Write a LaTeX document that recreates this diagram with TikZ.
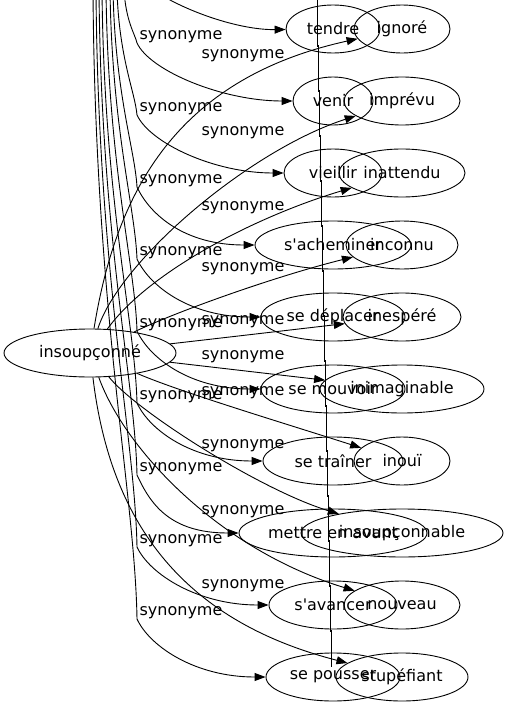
\documentclass[tikz,border=0pt]{standalone}
\usepackage{fontspec}
\newfontfamily\gvfont{DejaVu Sans}[Ligatures=TeXOff]
\usetikzlibrary{shapes.geometric,arrows.meta}

\tikzset{
  word/.style={ellipse, draw, line width=0.9pt, minimum height=48pt, inner sep=0pt,
    font=\gvfont\fontsize{16}{19}\selectfont},
  rel/.style={inner sep=0pt, font=\gvfont\fontsize{16}{19}\selectfont},
  syn/.style={line width=0.9pt, -{Triangle[length=11pt,width=8pt]}},
}

\begin{document}
\begin{tikzpicture}[x=1pt,y=-1pt]
    \useasboundingbox (0,0) rectangle (508,707);
    \clip (0,0) rectangle (508,707);

    % Source word
    \node[word, minimum width=172pt] (insoup) at (90,353) {insoupçonné};

    % Verbs
    \node[word, minimum width=94pt]  (tendre)   at (333,29)  {tendre};
    \node[word, minimum width=80pt]  (venir)    at (333,101) {venir};
    \node[word, minimum width=98pt]  (vieillir) at (333,173) {vieillir};
    \node[word, minimum width=156pt] (achem)    at (333,245) {s'acheminer};
    \node[word, minimum width=144pt] (deplacer) at (333,317) {se déplacer};
    \node[word, minimum width=144pt] (mouvoir)  at (333,389) {se mouvoir};
    \node[word, minimum width=140pt] (trainer)  at (333,461) {se traîner};
    \node[word, minimum width=188pt] (mettre)   at (333,533) {mettre en avant};
    \node[word, minimum width=128pt] (avancer)  at (333,605) {s'avancer};
    \node[word, minimum width=134pt] (pousser)  at (333,677) {se pousser};

    % Adjectives
    \node[word, minimum width=96pt]  (ignore)     at (402,29)  {ignoré};
    \node[word, minimum width=116pt] (imprevu)    at (402,101) {imprévu};
    \node[word, minimum width=126pt] (inattendu)  at (402,173) {inattendu};
    \node[word, minimum width=112pt] (inconnu)    at (402,245) {inconnu};
    \node[word, minimum width=118pt] (inespere)   at (402,317) {inespéré};
    \node[word, minimum width=164pt] (inimag)     at (402,389) {inimaginable};
    \node[word, minimum width=96pt]  (inoui)      at (402,461) {inouï};
    \node[word, minimum width=202pt] (insoupable) at (402,533) {insoupçonnable};
    \node[word, minimum width=116pt] (nouveau)    at (402,605) {nouveau};
    \node[word, minimum width=132pt] (stupefiant) at (402,677) {stupéfiant};

    % Edges coming from above
    \coordinate (srcA) at (150,-12);
    \coordinate (srcB) at (124,-10);
    \coordinate (srcC) at (117,-10);
    \coordinate (srcD) at (113,-10);
    \coordinate (srcE) at (110,-10);
    \coordinate (srcF) at (106,-10);
    \coordinate (srcG) at (102,-10);
    \coordinate (srcH) at (99,-10);
    \coordinate (srcI) at (96,-10);
    \coordinate (srcJ) at (93,-10);

    \draw[syn] (srcA) .. controls (185,12) and (240,30) .. (tendre);
    \draw[syn] (srcB) .. controls (126,22) and (135,34) .. (137,43)
        .. controls (150,71) and (223,101) .. (venir);
    \draw[syn] (srcC) .. controls (119,58) and (135,92) .. (137,115)
        .. controls (150,143) and (214,173) .. (vieillir);
    \draw[syn] (srcD) .. controls (115,94) and (135,150) .. (137,187)
        .. controls (150,215) and (185,245) .. (achem);
    \draw[syn] (srcE) .. controls (112,130) and (135,207) .. (137,259)
        .. controls (150,287) and (191,317) .. (deplacer);
    \draw[syn] (srcF) .. controls (108,166) and (135,265) .. (137,331)
        .. controls (150,359) and (191,389) .. (mouvoir);
    \draw[syn] (srcG) .. controls (104,202) and (135,322) .. (137,403)
        .. controls (150,431) and (193,461) .. (trainer);
    \draw[syn] (srcH) .. controls (101,238) and (135,380) .. (137,475)
        .. controls (150,503) and (169,533) .. (mettre);
    \draw[syn] (srcI) .. controls (98,274) and (135,438) .. (137,547)
        .. controls (150,575) and (199,605) .. (avancer);
    \draw[syn] (srcJ) .. controls (95,310) and (135,495) .. (137,619)
        .. controls (150,647) and (196,677) .. (pousser);

    % Edges from insoupçonné
    \draw[syn] (insoup) .. controls (115,200) and (170,80) .. (ignore);
    \draw[syn] (insoup) .. controls (120,260) and (250,150) .. (imprevu);
    \draw[syn] (insoup) .. controls (150,270) and (260,215) .. (inattendu);
    \draw[syn] (insoup) .. controls (180,310) and (280,275) .. (inconnu);
    \draw[syn] (insoup) .. controls (230,337) and (290,330) .. (inespere);
    \draw[syn] (insoup) .. controls (220,368) and (280,375) .. (inimag);
    \draw[syn] (insoup) .. controls (180,392) and (290,425) .. (inoui);
    \draw[syn] (insoup) .. controls (135,410) and (260,490) .. (insoupable);
    \draw[syn] (insoup) .. controls (125,450) and (220,550) .. (nouveau);
    \draw[syn] (insoup) .. controls (110,520) and (180,620) .. (stupefiant);

    % Labels, left
    \node[rel] (lb1) at (181,37)  {synonyme};
    \node[rel] (lb2) at (181,109) {synonyme};
    \node[rel] (lb3) at (181,181) {synonyme};
    \node[rel] (lb4) at (181,253) {synonyme};
    \node[rel] (lb5) at (181,325) {synonyme};
    \node[rel] (lb6) at (181,397) {synonyme};
    \node[rel] (lb7) at (181,469) {synonyme};
    \node[rel] (lb8) at (181,541) {synonyme};
    \node[rel] (lb9) at (181,613) {synonyme};

    % Labels, right
    \node[rel] (rb1)  at (243,56)  {synonyme};
    \node[rel] (rb2)  at (243,133) {synonyme};
    \node[rel] (rb3)  at (243,208) {synonyme};
    \node[rel] (rb4)  at (243,269) {synonyme};
    \node[rel] (rb5)  at (243,322) {synonyme};
    \node[rel] (rb6)  at (243,357) {synonyme};
    \node[rel] (rb7)  at (243,393) {synonyme};
    \node[rel] (rb8)  at (243,446) {synonyme};
    \node[rel] (rb9)  at (243,512) {synonyme};
    \node[rel] (rb10) at (243,586) {synonyme};

    % Stray vertical line
    \foreach \k in {0,...,13}
        \draw[line width=0.8pt] (317+\k,\k*45) -- (317+\k,\k*45+47);
    \draw[line width=0.8pt] (331,630) -- (331,667);

\end{tikzpicture}
\end{document}
